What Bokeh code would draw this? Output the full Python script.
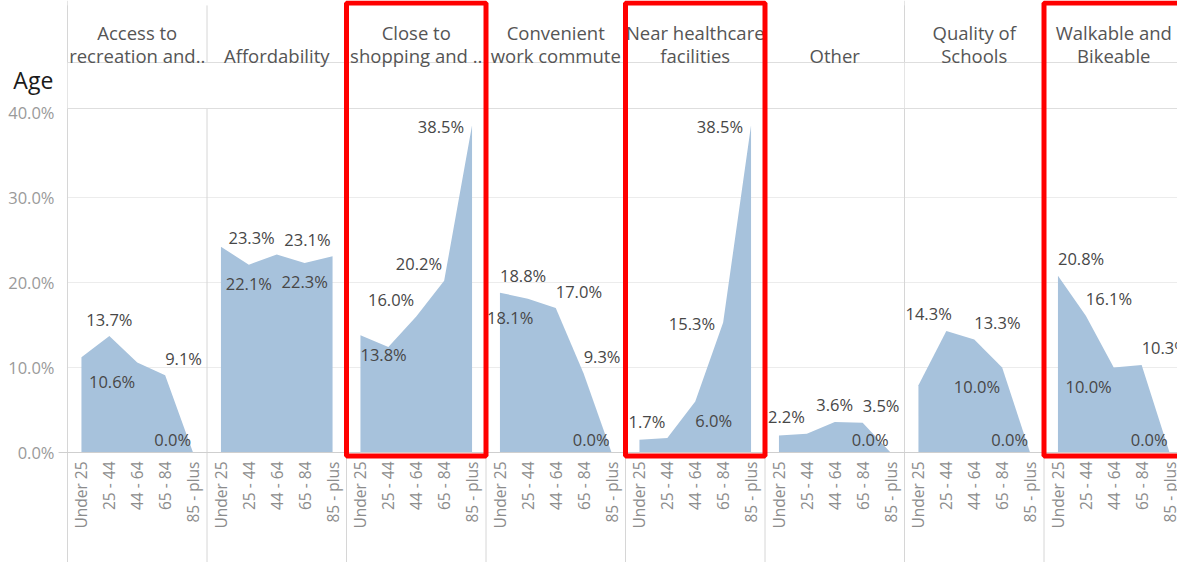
import math
from bokeh.plotting import figure
from bokeh.models import Range1d, FixedTicker, PrintfTickFormatter, ColumnDataSource
from bokeh.core.properties import value
from bokeh.embed import file_html
from bokeh.resources import INLINE

# ---------------- data ----------------
age_groups = ["Under 25", "25 - 44", "44 - 64", "65 - 84", "85 - plus"]

categories = ["Access to recreation and..", "Affordability", "Close to shopping and ..",
              "Convenient work commute", "Near healthcare facilities", "Other",
              "Quality of Schools", "Walkable and Bikeable"]
header_line1 = ["Access to", "", "Close to", "Convenient", "Near healthcare", "",
                "Quality of", "Walkable and"]
header_line2 = ["recreation and..", "Affordability", "shopping and ..", "work commute",
                "facilities", "Other", "Schools", "Bikeable"]

access_recreation = [11.2, 13.7, 10.6, 9.1, 0.0]
affordability = [24.2, 22.1, 23.3, 22.3, 23.1]
close_shopping = [13.8, 12.4, 16.0, 20.2, 38.5]
work_commute = [18.8, 18.1, 17.0, 9.3, 0.0]
near_healthcare = [1.5, 1.7, 6.0, 15.3, 38.5]
other = [2.0, 2.2, 3.6, 3.5, 0.0]
quality_schools = [7.9, 14.3, 13.3, 10.0, 0.0]
walkable_bikeable = [20.8, 16.1, 10.0, 10.3, 0.0]

series = [access_recreation, affordability, close_shopping, work_commute,
          near_healthcare, other, quality_schools, walkable_bikeable]

highlighted = ["Close to shopping and ..", "Near healthcare facilities", "Walkable and Bikeable"]

row_title = "Age"
y_ticks = [0, 10, 20, 30, 40]
grid_ticks = [10, 20, 30]

# ---------------- label placement (style, not data) ----------------
# first char: horizontal placement, second: vertical placement, None = label hidden
label_place = [
    [None, "CA", "RB", "LA", "RZ"],
    [None, "CB", "RA", "CB", "RA"],
    ["LB", None, "RA", "RA", "SM"],
    ["LA", "PB", "LA", "LA", "RZ"],
    [None, "RA", "LB", "SM", "SM"],
    [None, "RA", "CA", "LA", "RZ"],
    [None, "PA", "LA", "RB", "RZ"],
    ["LA", "LA", "RB", "LA", "RZ"],
]
H_RULES = {"L": ("left", 0), "C": ("center", 0), "R": ("right", -2),
           "S": ("right", -8), "P": ("left", 1)}
V_RULES = {"A": -17, "B": 19, "Z": -13, "M": 1}

# ---------------- geometry ----------------
W, H = 1177, 562
PANE_LEFT_PX = 67
PX_PER_X = 27.9
PX_PER_PCT = 8.5
ZERO_FROM_TOP = 452
NA = len(age_groups)

x_start = -PANE_LEFT_PX / PX_PER_X
x_end = (W - PANE_LEFT_PX) / PX_PER_X
y_end = ZERO_FROM_TOP / PX_PER_PCT
y_start = -(H - ZERO_FROM_TOP) / PX_PER_PCT

HEADER_TOP = 52.6
HEADER_BOTTOM = 45.88
PANE_TOP = 40.47
LINE2_Y = 46.7
LINE1_Y = 49.47

FONT = "Open Sans"
AREA = "#a7c2dc"
LABEL_SIZE = "16.5px"

p = figure(width=W, height=H, x_range=Range1d(x_start, x_end), y_range=Range1d(y_start, y_end),
           output_backend="svg", toolbar_location=None, x_axis_location=None,
           min_border_left=0, min_border_right=0, min_border_top=0, min_border_bottom=0)
p.outline_line_color = None
p.background_fill_color = "white"
p.border_fill_color = "white"

yax = p.yaxis[0]
yax.fixed_location = 0
yax.ticker = FixedTicker(ticks=y_ticks)
yax.formatter = PrintfTickFormatter(format="%.1f%%")
yax.axis_line_color = None
yax.major_tick_line_color = None
yax.minor_tick_line_color = None
yax.major_label_standoff = 7
yax.major_label_text_font = FONT
yax.major_label_text_font_size = LABEL_SIZE
yax.major_label_text_color = "#9a9a9a"
p.ygrid.visible = False

n = len(categories)
right_edge = n * NA

# light grid lines inside the panes
p.segment(x0=[0] * len(grid_ticks), y0=grid_ticks, x1=[right_edge] * len(grid_ticks),
          y1=grid_ticks, line_color="#ececec", line_width=1)

# separators and rules
sep_x = [k * NA for k in range(n + 1)]
p.segment(x0=sep_x, y0=[HEADER_TOP] * len(sep_x), x1=sep_x, y1=[HEADER_BOTTOM] * len(sep_x),
          line_color="#d6d6d6", line_width=1)
p.segment(x0=sep_x, y0=[PANE_TOP] * len(sep_x), x1=sep_x, y1=[y_start] * len(sep_x),
          line_color="#d6d6d6", line_width=1)
p.segment(x0=[0, 0], y0=[HEADER_BOTTOM, PANE_TOP], x1=[right_edge, right_edge],
          y1=[HEADER_BOTTOM, PANE_TOP], line_color="#dedede", line_width=1)

# areas
for i, vals in enumerate(series):
    xs = [i * NA + j + 0.5 for j in range(NA)]
    p.varea(x=xs, y1=[0] * NA, y2=vals, fill_color=AREA)

p.segment(x0=[-0.32], y0=[0], x1=[right_edge], y1=[0], line_color="#cfcfcf", line_width=1)

# headers
cx = [i * NA + NA / 2 for i in range(n)]
p.text(x=cx, y=[LINE1_Y] * n, text=header_line1, text_font=value(FONT),
       text_font_size="18.5px", text_color="#555555", text_align="center", text_baseline="middle")
p.text(x=cx, y=[LINE2_Y] * n, text=header_line2, text_font=value(FONT),
       text_font_size="18.5px", text_color="#555555", text_align="center", text_baseline="middle")

# row title
p.text(x=[-1.94], y=[43.8], text=[row_title], text_font=value(FONT), text_font_size="23px",
       text_color="#1a1a1a", text_align="left", text_baseline="middle")

# age tick labels
ax, ay, at = [], [], []
for i in range(n):
    for j, a in enumerate(age_groups):
        ax.append(i * NA + j + 0.5)
        ay.append(0)
        at.append(a)
p.text(x=ax, y=ay, text=at, angle=math.pi / 2, text_align="right", text_baseline="middle",
       y_offset=9, text_font=value(FONT), text_font_size="15.5px", text_color="#8c8c8c")

# value labels
groups = {}
for i, vals in enumerate(series):
    for j, v in enumerate(vals):
        code = label_place[i][j]
        if code is None:
            continue
        align, dx = H_RULES[code[0]]
        dy = V_RULES[code[1]]
        x = i * NA if code[0] == "P" else i * NA + j + 0.5
        g = groups.setdefault(align, dict(x=[], y=[], text=[], dx=[], dy=[]))
        g["x"].append(x)
        g["y"].append(v)
        g["text"].append(f"{v:.1f}%")
        g["dx"].append(dx)
        g["dy"].append(dy)
for align, g in groups.items():
    src = ColumnDataSource(g)
    p.text(x="x", y="y", text="text", x_offset="dx", y_offset="dy", source=src,
           text_align=align, text_baseline="middle", text_font=value(FONT),
           text_font_size=LABEL_SIZE, text_color="#474747")

# highlight boxes
hi = [categories.index(c) for c in highlighted]
p.quad(left=[i * NA for i in hi], right=[i * NA + NA for i in hi],
       top=[52.89] * len(hi), bottom=[-0.41] * len(hi),
       fill_color=None, line_color="#ff0000", line_width=5)

open("out.html", "w").write(file_html(p, INLINE))
